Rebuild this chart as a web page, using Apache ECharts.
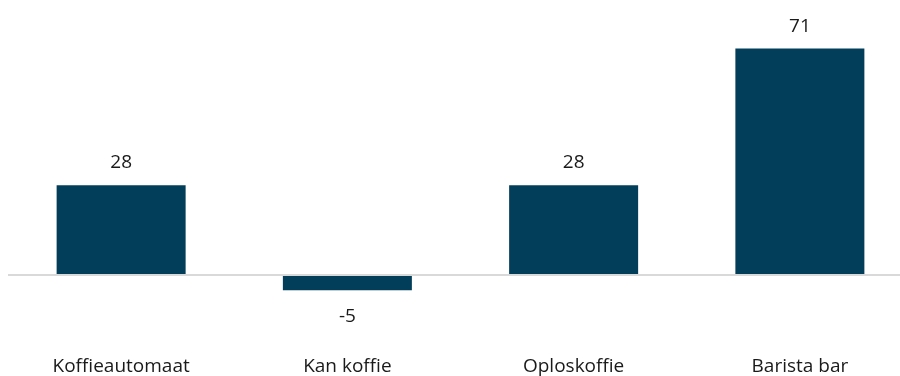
<!DOCTYPE html>
<html><head><meta charset="utf-8">
<script src="https://cdn.jsdelivr.net/npm/echarts@6/dist/echarts.min.js"></script>
<style>html,body{margin:0;padding:0;background:#fff;overflow:hidden}#c{width:913px;height:376px}</style>
</head><body><div id="c"></div>
<script>
const categories = ["Koffieautomaat", "Kan koffie", "Oploskoffie", "Barista bar"];
const values = [28, -5, 28, 71];

const chart = echarts.init(document.getElementById('c'), null, {renderer: 'canvas'});
const font = '"Open Sans", sans-serif';
chart.setOption({
  animation: false,
  grid: {left: 8, top: 20, right: 0, bottom: 37, containLabel: false},
  xAxis: {
    type: 'category', data: categories,
    axisLine: {show: false}, axisTick: {show: false},
    axisLabel: {color: '#1a1a1a', fontSize: 19, fontFamily: font, margin: 19}
  },
  yAxis: {
    type: 'value', min: -20, max: 80, show: false, splitLine: {show: false}
  },
  series: [{
    type: 'bar', barWidth: 129,
    data: values.map(v => ({
      value: v,
      label: {position: v < 0 ? 'bottom' : 'top', distance: v < 0 ? 17 : 13}
    })),
    itemStyle: {color: '#023e5a'},
    label: {show: true, color: '#1a1a1a', fontSize: 19, fontFamily: font},
    markLine: {
      silent: true, symbol: 'none', label: {show: false},
      lineStyle: {color: '#d9d9d9', width: 2, type: 'solid'},
      data: [{yAxis: 0}]
    },
    z: 3
  }]
});
</script></body></html>
